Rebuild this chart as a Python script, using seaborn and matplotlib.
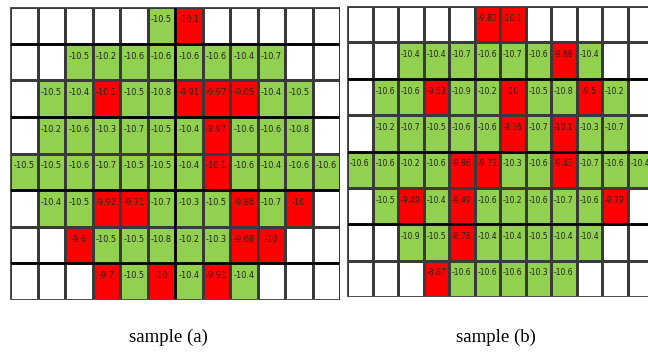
import numpy as np
import matplotlib
matplotlib.use("Agg")
import matplotlib.pyplot as plt
from matplotlib.colors import ListedColormap
import seaborn as sns

N = None
sample_a = [
    [N, N, N, N, N, -10.5, -10.1, N, N, N, N, N],
    [N, N, -10.5, -10.2, -10.6, -10.6, -10.6, -10.6, -10.4, -10.7, N, N],
    [N, -10.5, -10.4, -10.1, -10.5, -10.8, -9.91, -9.97, -9.05, -10.4, -10.5, N],
    [N, -10.2, -10.6, -10.3, -10.7, -10.5, -10.4, -8.97, -10.6, -10.6, -10.8, N],
    [-10.5, -10.5, -10.6, -10.7, -10.5, -10.5, -10.4, -10.1, -10.6, -10.4, -10.6, -10.6],
    [N, -10.4, -10.5, -9.92, -9.71, -10.7, -10.3, -10.5, -9.86, -10.7, -10.0, N],
    [N, N, -9.6, -10.5, -10.5, -10.8, -10.2, -10.3, -9.68, -10.0, N, N],
    [N, N, N, -9.7, -10.5, -10.0, -10.4, -9.91, -10.4, N, N, N],
]
sample_b = [
    [N, N, N, N, N, -9.82, -10.1, N, N, N, N, N],
    [N, N, -10.4, -10.4, -10.7, -10.6, -10.7, -10.6, -9.68, -10.4, N, N],
    [N, -10.6, -10.6, -9.53, -10.9, -10.2, -10.0, -10.5, -10.8, -9.5, -10.2, N],
    [N, -10.2, -10.7, -10.5, -10.6, -10.6, -9.36, -10.7, -10.1, -10.3, -10.7, N],
    [-10.6, -10.6, -10.2, -10.6, -9.86, -9.73, -10.3, -10.6, -9.43, -10.7, -10.6, -10.4],
    [N, -10.5, -9.49, -10.4, -9.49, -10.6, -10.2, -10.6, -10.7, -10.6, -9.79, N],
    [N, N, -10.9, -10.5, -8.78, -10.4, -10.4, -10.5, -10.4, -10.4, N, N],
    [N, N, N, -8.87, -10.6, -10.6, -10.6, -10.3, -10.6, N, N, N],
]
titles = ["sample (a)", "sample (b)"]
threshold = -10.15  # values above are highlighted red

fig = plt.figure(figsize=(6.48, 3.55), dpi=100)
W, H = 648.0, 355.0

def px_axes(x0, y0, x1, y1):
    return fig.add_axes([x0 / W, 1 - y1 / H, (x1 - x0) / W, (y1 - y0) / H])

cmap = ListedColormap(["white", "#92D050", "#FF0000"])

def fmt(v):
    if v is None:
        return ""
    return f"{v:.2f}".rstrip("0").rstrip(".")

def draw(ax, data, thick_rows, thick_cols, fs):
    arr = np.array([[np.nan if v is None else v for v in r] for r in data], dtype=float)
    cat = np.where(np.isnan(arr), 0, np.where(arr > threshold, 2, 1))
    labels = np.array([[fmt(v) for v in r] for r in data], dtype=object)
    sns.heatmap(cat, ax=ax, cmap=cmap, vmin=-0.5, vmax=2.5, cbar=False,
                annot=labels, fmt="", linewidths=0.8, linecolor="#3a3a3a",
                annot_kws={"fontsize": fs, "color": "#222222",
                           "family": "DejaVu Sans", "fontstretch": "condensed"},
                xticklabels=False, yticklabels=False)
    for t in ax.texts:
        x, y = t.get_position()
        t.set_position((x, y - 0.16))
    for r in thick_rows:
        ax.axhline(r, color="black", lw=1.8)
    for c in thick_cols:
        ax.axvline(c, color="black", lw=1.8)
    ax.axhline(0, color="#555555", lw=1.2)
    ax.axhline(arr.shape[0], color="#555555", lw=1.2)
    ax.axvline(0, color="#555555", lw=1.2)
    ax.axvline(arr.shape[1], color="#333333", lw=1.4)

ax1 = px_axes(10, 7, 340, 300)
draw(ax1, sample_a, [1, 3, 5, 7], [6], 6.6)
ax2 = px_axes(347, 6, 653, 297)
draw(ax2, sample_b, [2, 4, 6], [], 6.1)

fig.text(168 / W, 1 - 337 / H, titles[0], ha="center", va="center",
         fontsize=13.5, family="Liberation Serif")
fig.text(496 / W, 1 - 337 / H, titles[1], ha="center", va="center",
         fontsize=13.5, family="Liberation Serif")

fig.savefig("out.png", dpi=100)
